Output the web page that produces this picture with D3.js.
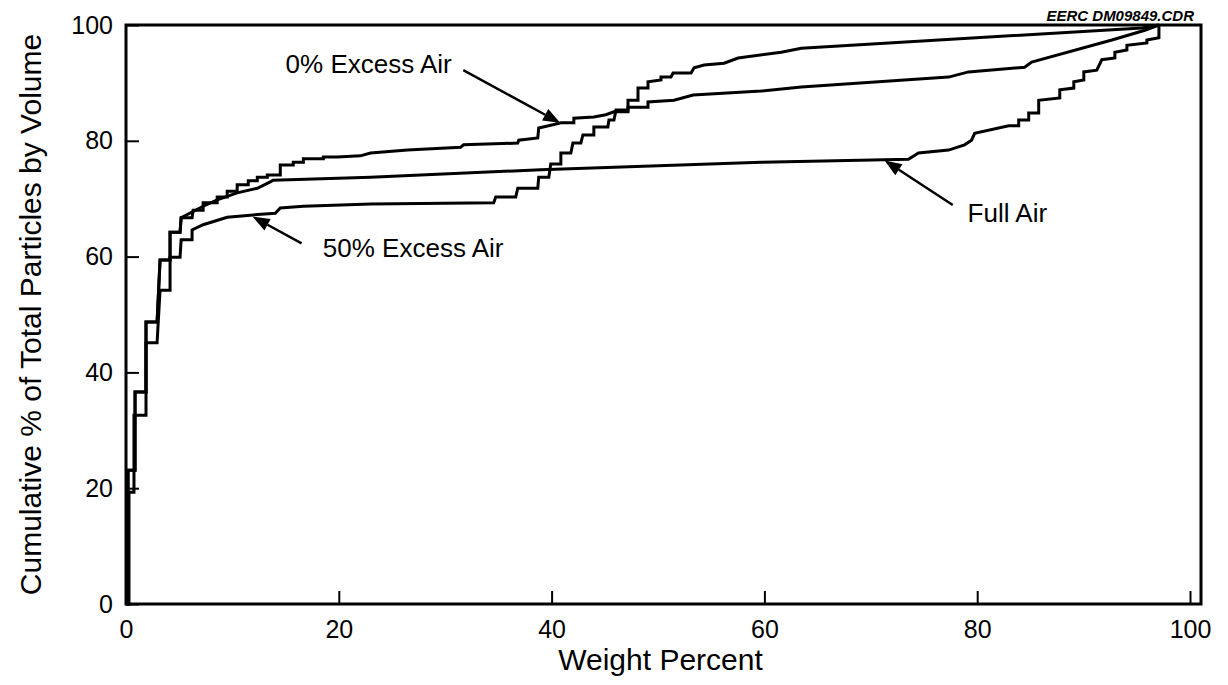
<!DOCTYPE html>
<html><head><meta charset="utf-8">
<script src="https://cdn.jsdelivr.net/npm/d3@7"></script>
<style>
html,body{margin:0;padding:0;background:#fff;}
svg{display:block;}
text{font-family:"Liberation Sans", Arial, Helvetica, sans-serif; fill:#000;}
</style></head><body>
<svg id="chart" width="1228" height="685"></svg>
<script>
// ---- data (Weight Percent, Cumulative %) ----
const xTicks = [0, 20, 40, 60, 80, 100];
const yTicks = [0, 20, 40, 60, 80, 100];
const seriesNames = ["0% Excess Air", "Full Air", "50% Excess Air"];

const excess0 = [
  [0,0],[0.19,0],[0.19,23.1],[0.85,23.1],[0.85,36.6],[1.88,36.6],[1.88,48.7],[2.92,48.7],
  [3.2,59.4],[4.14,59.4],[4.14,64.2],[5.08,64.2],[5.18,66.7],[6.21,66.7],[6.31,68.0],[7.25,68.0],
  [7.25,69.3],[8.57,69.3],[8.57,70.3],[9.51,70.3],[9.51,71.3],[10.45,71.3],[10.45,72.4],[11.49,72.4],
  [11.49,73.1],[12.34,73.1],[12.34,73.7],[13.28,73.7],[13.28,74.1],[14.5,74.1],[14.5,75.8],[15.72,75.8],
  [15.72,76.3],[16.67,76.3],[16.67,76.9],[18.55,76.9],[18.55,77.2],[19.87,77.2],[22.03,77.4],[22.98,77.9],
  [26.46,78.4],[31.45,78.9],[31.73,79.3],[36.82,79.6],[36.91,80.1],[38.7,80.5],[38.79,82.2],[39.92,82.7],
  [40.87,83.1],[42.09,83.1],[42.09,83.9],[43.97,84.1],[45.1,84.5],[45.86,85.0],[47.18,85.0],[47.18,87.0],
  [48.12,87.0],[48.12,89.1],[49.06,89.1],[49.06,90.2],[50.28,90.5],[50.28,91.0],[51.22,91.0],[51.41,91.7],
  [53.11,91.7],[53.39,92.6],[54.33,93.1],[56.21,93.4],[57.53,94.3],[61.58,95.3],[63.47,96.0],[95.48,99.5],
  [97.08,100]
];

const fullAir = [
  [0,0],[0.19,0],[0.19,23.1],[0.85,23.1],[0.85,36.6],[1.88,36.6],[1.88,48.7],[2.92,48.7],
  [3.2,59.4],[4.14,59.4],[4.14,64.2],[5.08,64.2],[5.18,66.7],[6.21,67.7],[7.25,68.7],[8.57,69.8],
  [10.45,71.0],[12.34,71.8],[13.56,72.9],[13.84,73.2],[22.98,73.7],[38.98,75.0],[59.7,76.3],[73.54,76.8],
  [74.48,77.9],[77.31,78.4],[78.81,79.3],[79.47,80.1],[79.76,81.3],[82.96,82.6],[83.9,82.6],[83.9,83.6],
  [84.84,83.6],[84.84,84.8],[85.78,84.8],[85.78,87.0],[87.76,87.4],[87.76,88.8],[89.08,89.1],[89.08,90.2],
  [90.02,90.5],[90.02,91.9],[91.24,92.2],[91.71,94.0],[92.94,94.3],[92.94,95.3],[94.07,95.7],[94.07,96.5],
  [95.95,96.9],[95.95,97.4],[97.08,97.8],[97.08,100]
];

const excess50 = [
  [0,0],[0.28,0],[0.28,19.3],[0.75,19.3],[0.75,32.6],[1.88,32.6],[1.88,45.1],[2.92,45.1],
  [3.2,54.2],[4.14,54.2],[4.14,59.9],[5.08,59.9],[5.18,62.9],[6.21,62.9],[6.21,64.6],[7.25,65.5],
  [9.51,66.8],[11.96,67.2],[14.03,67.5],[14.5,68.4],[16.67,68.7],[22.98,69.1],[34.56,69.3],[34.75,70.3],
  [36.63,70.3],[36.82,71.8],[38.7,71.8],[38.79,73.7],[39.74,73.7],[39.92,76.0],[40.87,76.0],[40.87,77.9],
  [41.81,77.9],[42.0,79.6],[42.75,79.6],[42.94,81.0],[43.97,81.0],[43.97,82.4],[45.29,82.4],[45.39,83.6],
  [45.86,83.6],[46.05,85.3],[47.18,85.3],[47.18,85.8],[49.06,85.8],[49.06,86.7],[51.51,87.0],[53.3,87.9],
  [59.7,88.6],[63.47,89.3],[77.31,91.0],[79.19,91.9],[84.46,92.7],[85.12,93.6],[92.66,97.4],[95.76,99.1],
  [97.08,100]
];

// annotation labels: text anchor point and arrow (from -> tip), in data units
const annotations = [
  {text: "0% Excess Air",  tx: 15.0, ty: 91.7, fx: 31.7, fy: 92.2, px: 40.8, py: 83.1},
  {text: "50% Excess Air", tx: 18.5, ty: 59.9, fx: 16.5, fy: 62.3, px: 11.9, py: 66.9},
  {text: "Full Air",       tx: 79.1, ty: 66.0, fx: 77.7, fy: 68.9, px: 71.3, py: 76.6}
];
const xTitle = "Weight Percent";
const yTitle = "Cumulative % of Total Particles by Volume";
const fileTag = "EERC DM09849.CDR";

// ---- layout ----
const mLeft = 126, mTop = 25, frameRight = 1201, mBottom = 604;
const x = d3.scaleLinear().domain([0, 100]).range([mLeft, 1190]);
const y = d3.scaleLinear().domain([0, 100]).range([mBottom, mTop]);

const svg = d3.select("#chart");

// curves
const line = d3.line().x(d => x(d[0])).y(d => y(d[1]));
[excess0, fullAir, excess50].forEach(s => {
  svg.append("path").attr("d", line(s))
    .attr("fill", "none").attr("stroke", "#000")
    .attr("stroke-width", 3).attr("stroke-linejoin", "miter");
});

// axes
const gx = svg.append("g").attr("transform", `translate(0,${mBottom})`)
  .call(d3.axisBottom(x).tickValues(xTicks).tickSizeInner(-13).tickSizeOuter(0).tickPadding(16));
gx.select(".domain").remove();
gx.selectAll(".tick line").attr("stroke", "#000").attr("stroke-width", 2);
gx.selectAll(".tick text").style("font-size", "25px").attr("fill", "#000");

const gy = svg.append("g").attr("transform", `translate(${mLeft},0)`)
  .call(d3.axisLeft(y).tickValues(yTicks).tickSizeInner(-13).tickSizeOuter(0).tickPadding(13));
gy.select(".domain").remove();
gy.selectAll(".tick line").attr("stroke", "#000").attr("stroke-width", 2);
gy.selectAll(".tick text").style("font-size", "25px").attr("fill", "#000");

// frame
svg.append("rect").attr("x", mLeft).attr("y", mTop)
  .attr("width", frameRight - mLeft).attr("height", mBottom - mTop)
  .attr("fill", "none").attr("stroke", "#000").attr("stroke-width", 3);

// titles
svg.append("text").attr("x", (mLeft + frameRight) / 2 - 3).attr("y", 670)
  .attr("text-anchor", "middle").style("font-size", "30px").text(xTitle);
svg.append("text").attr("transform", `translate(41,${(mTop + mBottom) / 2}) rotate(-90)`)
  .attr("text-anchor", "middle").style("font-size", "30px").text(yTitle);
svg.append("text").attr("x", 1194).attr("y", 21).attr("text-anchor", "end")
  .style("font-size", "15px").style("font-weight", "bold").style("font-style", "italic")
  .text(fileTag);

// annotations
annotations.forEach(a => {
  svg.append("text").attr("x", x(a.tx)).attr("y", y(a.ty))
    .style("font-size", "26px").text(a.text);
  const x1 = x(a.fx), y1 = y(a.fy), x2 = x(a.px), y2 = y(a.py);
  const ang = Math.atan2(y2 - y1, x2 - x1);
  const L = 17, hw = 6.5;
  const bx = x2 - L * Math.cos(ang), by = y2 - L * Math.sin(ang);
  svg.append("line").attr("x1", x1).attr("y1", y1).attr("x2", bx).attr("y2", by)
    .attr("stroke", "#000").attr("stroke-width", 2.5);
  const p = [[x2, y2],
    [bx + hw * Math.sin(ang), by - hw * Math.cos(ang)],
    [bx - hw * Math.sin(ang), by + hw * Math.cos(ang)]];
  svg.append("path").attr("d", "M" + p.map(q => q.join(",")).join("L") + "Z").attr("fill", "#000");
});
</script>
</body></html>
